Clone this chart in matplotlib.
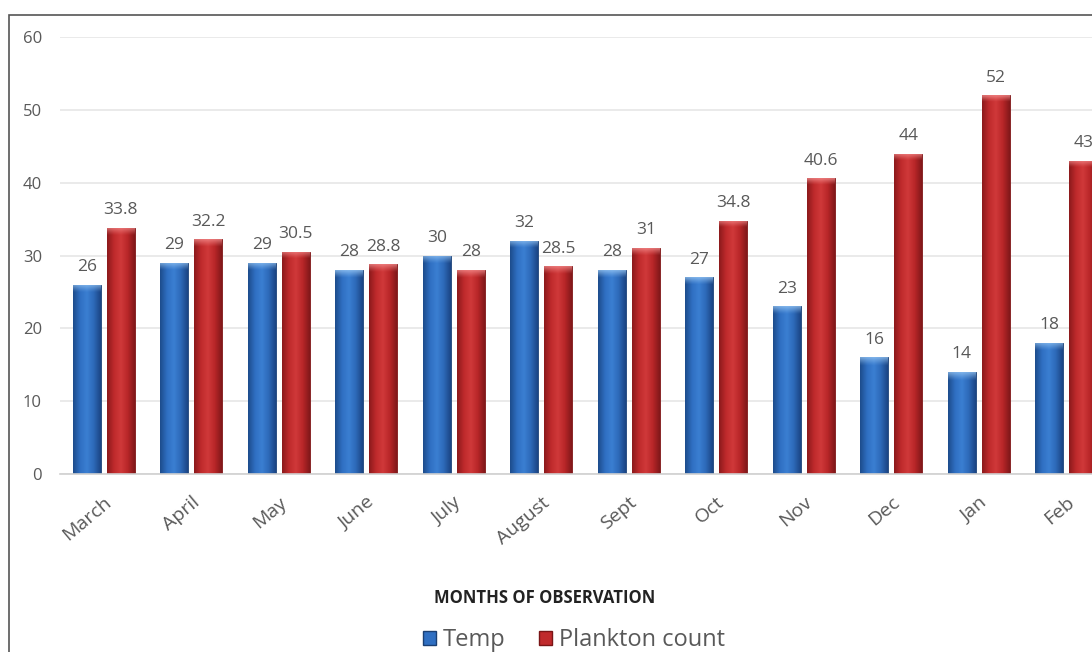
import numpy as np
import matplotlib
matplotlib.use("Agg")
import matplotlib.pyplot as plt
from matplotlib.colors import LinearSegmentedColormap, to_rgb
from matplotlib.patches import Rectangle, Patch

months = ["March", "April", "May", "June", "July", "August",
          "Sept", "Oct", "Nov", "Dec", "Jan", "Feb"]
temp = [26, 29, 29, 28, 30, 32, 28, 27, 23, 16, 14, 18]
plankton = [33.8, 32.2, 30.5, 28.8, 28, 28.5, 31, 34.8, 40.6, 44, 52, 43]

plt.rcParams['font.family'] = ['Open Sans', 'DejaVu Sans']
grey = "#595959"

fig = plt.figure(figsize=(10.92, 6.52), dpi=100)
ax = fig.add_axes([60 / 1092, 1 - 474 / 652, 1050 / 1092, 437 / 652])

x = np.arange(len(months))
w = 0.32
off = 0.194

blue_cmap = LinearSegmentedColormap.from_list(
    "b", ["#1d4c8c", "#2f6fc2", "#3b7fd2", "#2d69b8", "#1b4584"])
red_cmap = LinearSegmentedColormap.from_list(
    "r", ["#8c1a1c", "#bf2a2c", "#d0393a", "#b82628", "#82181a"])


def shaded_bars(xs, vals, cmap, edge, cap):
    # flat bars first, then a cylinder-like gradient clipped to each one
    bars = ax.bar(xs, vals, w, color=cmap(0.5), edgecolor=edge, linewidth=0.6, zorder=2)
    cols = cmap(np.linspace(0, 1, 64))[:, :3]
    cap = np.array(to_rgb(cap))
    for b in bars:
        h = b.get_height()
        rows = 200
        img = np.repeat(cols[None, :, :], rows, axis=0)
        # light cap over the top ~1.2 units of the bar
        frac = min(1.2 / h, 1.0)
        ncap = max(int(rows * frac), 1)
        t = np.linspace(1, 0, ncap)[:, None, None] ** 1.2
        img[:ncap] = img[:ncap] * (1 - 0.7 * t) + cap * 0.7 * t
        x0, y0 = b.get_x(), b.get_y()
        im = ax.imshow(img, aspect="auto", zorder=2.5, interpolation="bilinear",
                       extent=[x0, x0 + b.get_width(), y0, y0 + h])
        im.set_clip_path(b)
    return bars


shaded_bars(x - off, temp, blue_cmap, "#1a3f73", "#9ccaf5")
shaded_bars(x + off, plankton, red_cmap, "#7a1516", "#f59090")

for xs, vals in [(x - off, temp), (x + off, plankton)]:
    for xi, v in zip(xs, vals):
        ax.annotate(f"{v:g}", (xi, v), xytext=(0, 7), textcoords="offset points",
                    ha="center", va="bottom", fontsize=12.5, color=grey, zorder=4)

ax.set_xlim(-0.5, len(months) - 0.5)
ax.set_ylim(0, 60)
ax.set_yticks(range(0, 61, 10))
ax.yaxis.grid(True, color="#e6e6e6", linewidth=1.2, zorder=0)
ax.set_axisbelow(True)
for s in ["top", "right", "left"]:
    ax.spines[s].set_visible(False)
ax.spines["bottom"].set_color("#d0d0d0")
ax.spines["bottom"].set_linewidth(1.2)
ax.tick_params(axis="both", length=0, colors=grey, labelsize=12)
ax.tick_params(axis="y", pad=13)
ax.set_xticks(x)
ax.set_xticklabels(months, rotation=40, ha="right", rotation_mode="anchor", fontsize=14)
ax.tick_params(axis="x", pad=14)

fig.text(545 / 1092, 1 - 598 / 652, "MONTHS OF OBSERVATION", ha="center", va="center",
         fontsize=12, fontweight="bold", color="#222222")

handles = [Patch(facecolor="#2f6fc2", edgecolor="#1a3f73"),
           Patch(facecolor="#c02a2c", edgecolor="#7a1516")]
fig.legend(handles, ["Temp", "Plankton count"], loc="center",
           bbox_to_anchor=(574 / 1092, 1 - 640 / 652), ncol=2, frameon=False,
           fontsize=17, handlelength=0.55, handleheight=0.55, handletextpad=0.3,
           columnspacing=1.4, labelcolor=grey)

fig.add_artist(Rectangle((9 / 1092, -0.1), 1.2, 0.1 + 1 - 15 / 652,
                         transform=fig.transFigure, fill=False,
                         edgecolor="#555555", linewidth=1.2))

fig.savefig("out.png", dpi=100)
